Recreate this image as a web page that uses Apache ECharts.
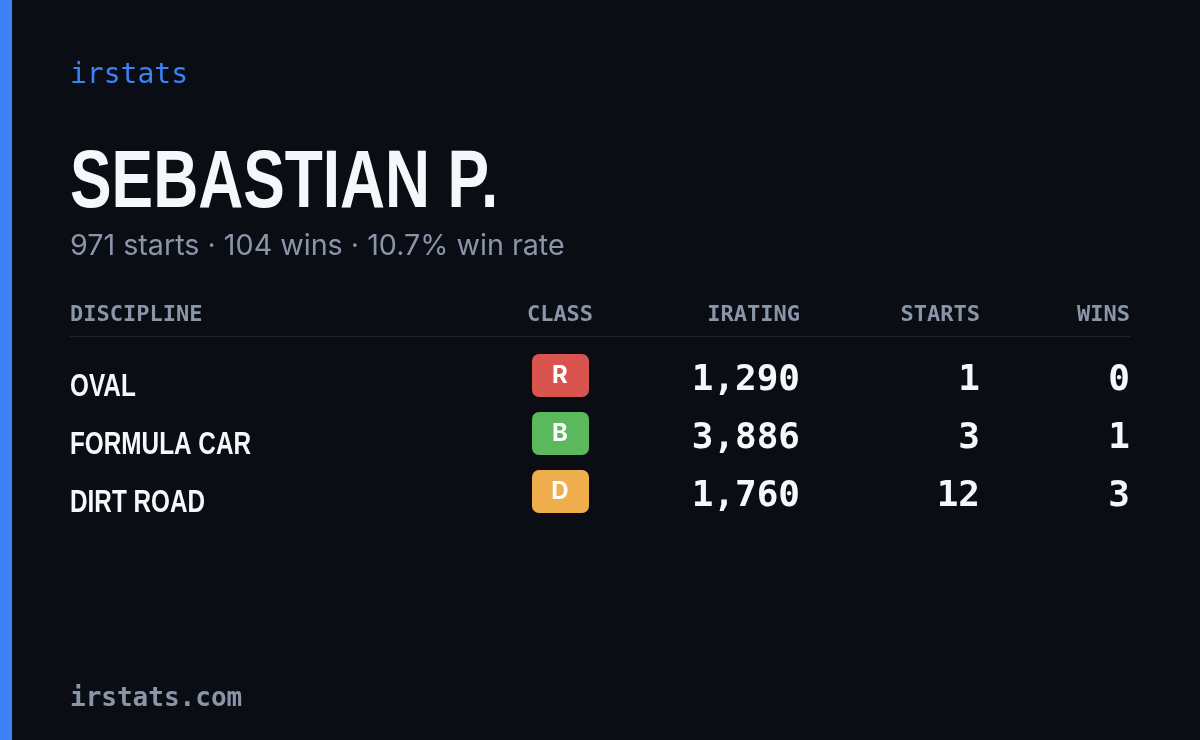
<!DOCTYPE html>
<html><head><meta charset="utf-8">
<script src="https://cdn.jsdelivr.net/npm/echarts@6/dist/echarts.min.js"></script>
<style>html,body{margin:0;padding:0;background:#0a0d14}#card{width:1200px;height:740px}</style>
</head><body><div id="card"></div>
<script>
var chart = echarts.init(document.getElementById('card'));

var driverName = 'SEBASTIAN P.';
var summary = '971 starts · 104 wins · 10.7% win rate';
var headers = ['DISCIPLINE', 'CLASS', 'IRATING', 'STARTS', 'WINS'];
var disciplines = ['OVAL', 'FORMULA CAR', 'DIRT ROAD'];
var classes = ['R', 'B', 'D'];
var classColors = ['#d9534f', '#5cb85c', '#f0ad4e'];
var iratings = [1290, 3886, 1760];
var starts = [1, 3, 12];
var wins = [0, 1, 3];

var mono = '"DejaVu Sans Mono", monospace';
var cond = '"Liberation Sans", sans-serif';
var gray = '#8b95a8';

var g = [
    { type: 'rect', shape: { x: 0, y: 0, width: 12, height: 740 }, style: { fill: '#3b82f6' } },
    { type: 'text', x: 70, y: 76, style: { text: 'irstats', fill: '#3b82f6', font: '28px ' + mono, verticalAlign: 'middle' } },
    { type: 'text', x: 70, y: 184, scaleX: 0.76, style: { text: driverName, fill: '#f5f7fa', font: 'bold 82px ' + cond, verticalAlign: 'middle' } },
    { type: 'text', x: 70, y: 246, style: { text: summary, fill: gray, font: '28.7px Inter', verticalAlign: 'middle' } },
    { type: 'rect', shape: { x: 70, y: 336, width: 1060, height: 1 }, style: { fill: '#1e2430' } },
    { type: 'text', x: 70, y: 699, style: { text: 'irstats.com', fill: gray, font: 'bold 26px ' + mono, verticalAlign: 'middle' } }
];

var headX = [70, 560, 800, 980, 1130];
var headAlign = ['left', 'center', 'right', 'right', 'right'];
headers.forEach(function (h, i) {
    g.push({ type: 'text', x: headX[i], y: 315, style: { text: h, fill: gray, font: 'bold 22px ' + mono, align: headAlign[i], verticalAlign: 'middle' } });
});

disciplines.forEach(function (d, i) {
    var y = 378 + i * 58;
    g.push({ type: 'text', x: 70, y: y + 9, scaleX: 0.76, style: { text: d, fill: '#f5f7fa', font: 'bold 32px ' + cond, verticalAlign: 'middle' } });
    g.push({ type: 'rect', shape: { x: 532, y: y - 24, width: 57, height: 43, r: 7 }, style: { fill: classColors[i] } });
    g.push({ type: 'text', x: 560, y: y - 2, style: { text: classes[i], fill: '#ffffff', font: 'bold 24px Inter', align: 'center', verticalAlign: 'middle' } });
    g.push({ type: 'text', x: 800, y: y + 3, style: { text: iratings[i].toLocaleString('en-US'), fill: '#f5f7fa', font: 'bold 36px ' + mono, align: 'right', verticalAlign: 'middle' } });
    g.push({ type: 'text', x: 980, y: y + 3, style: { text: String(starts[i]), fill: '#f5f7fa', font: 'bold 36px ' + mono, align: 'right', verticalAlign: 'middle' } });
    g.push({ type: 'text', x: 1130, y: y + 3, style: { text: String(wins[i]), fill: '#f5f7fa', font: 'bold 36px ' + mono, align: 'right', verticalAlign: 'middle' } });
});

chart.setOption({ backgroundColor: '#0a0d14', graphic: g });
</script></body></html>
